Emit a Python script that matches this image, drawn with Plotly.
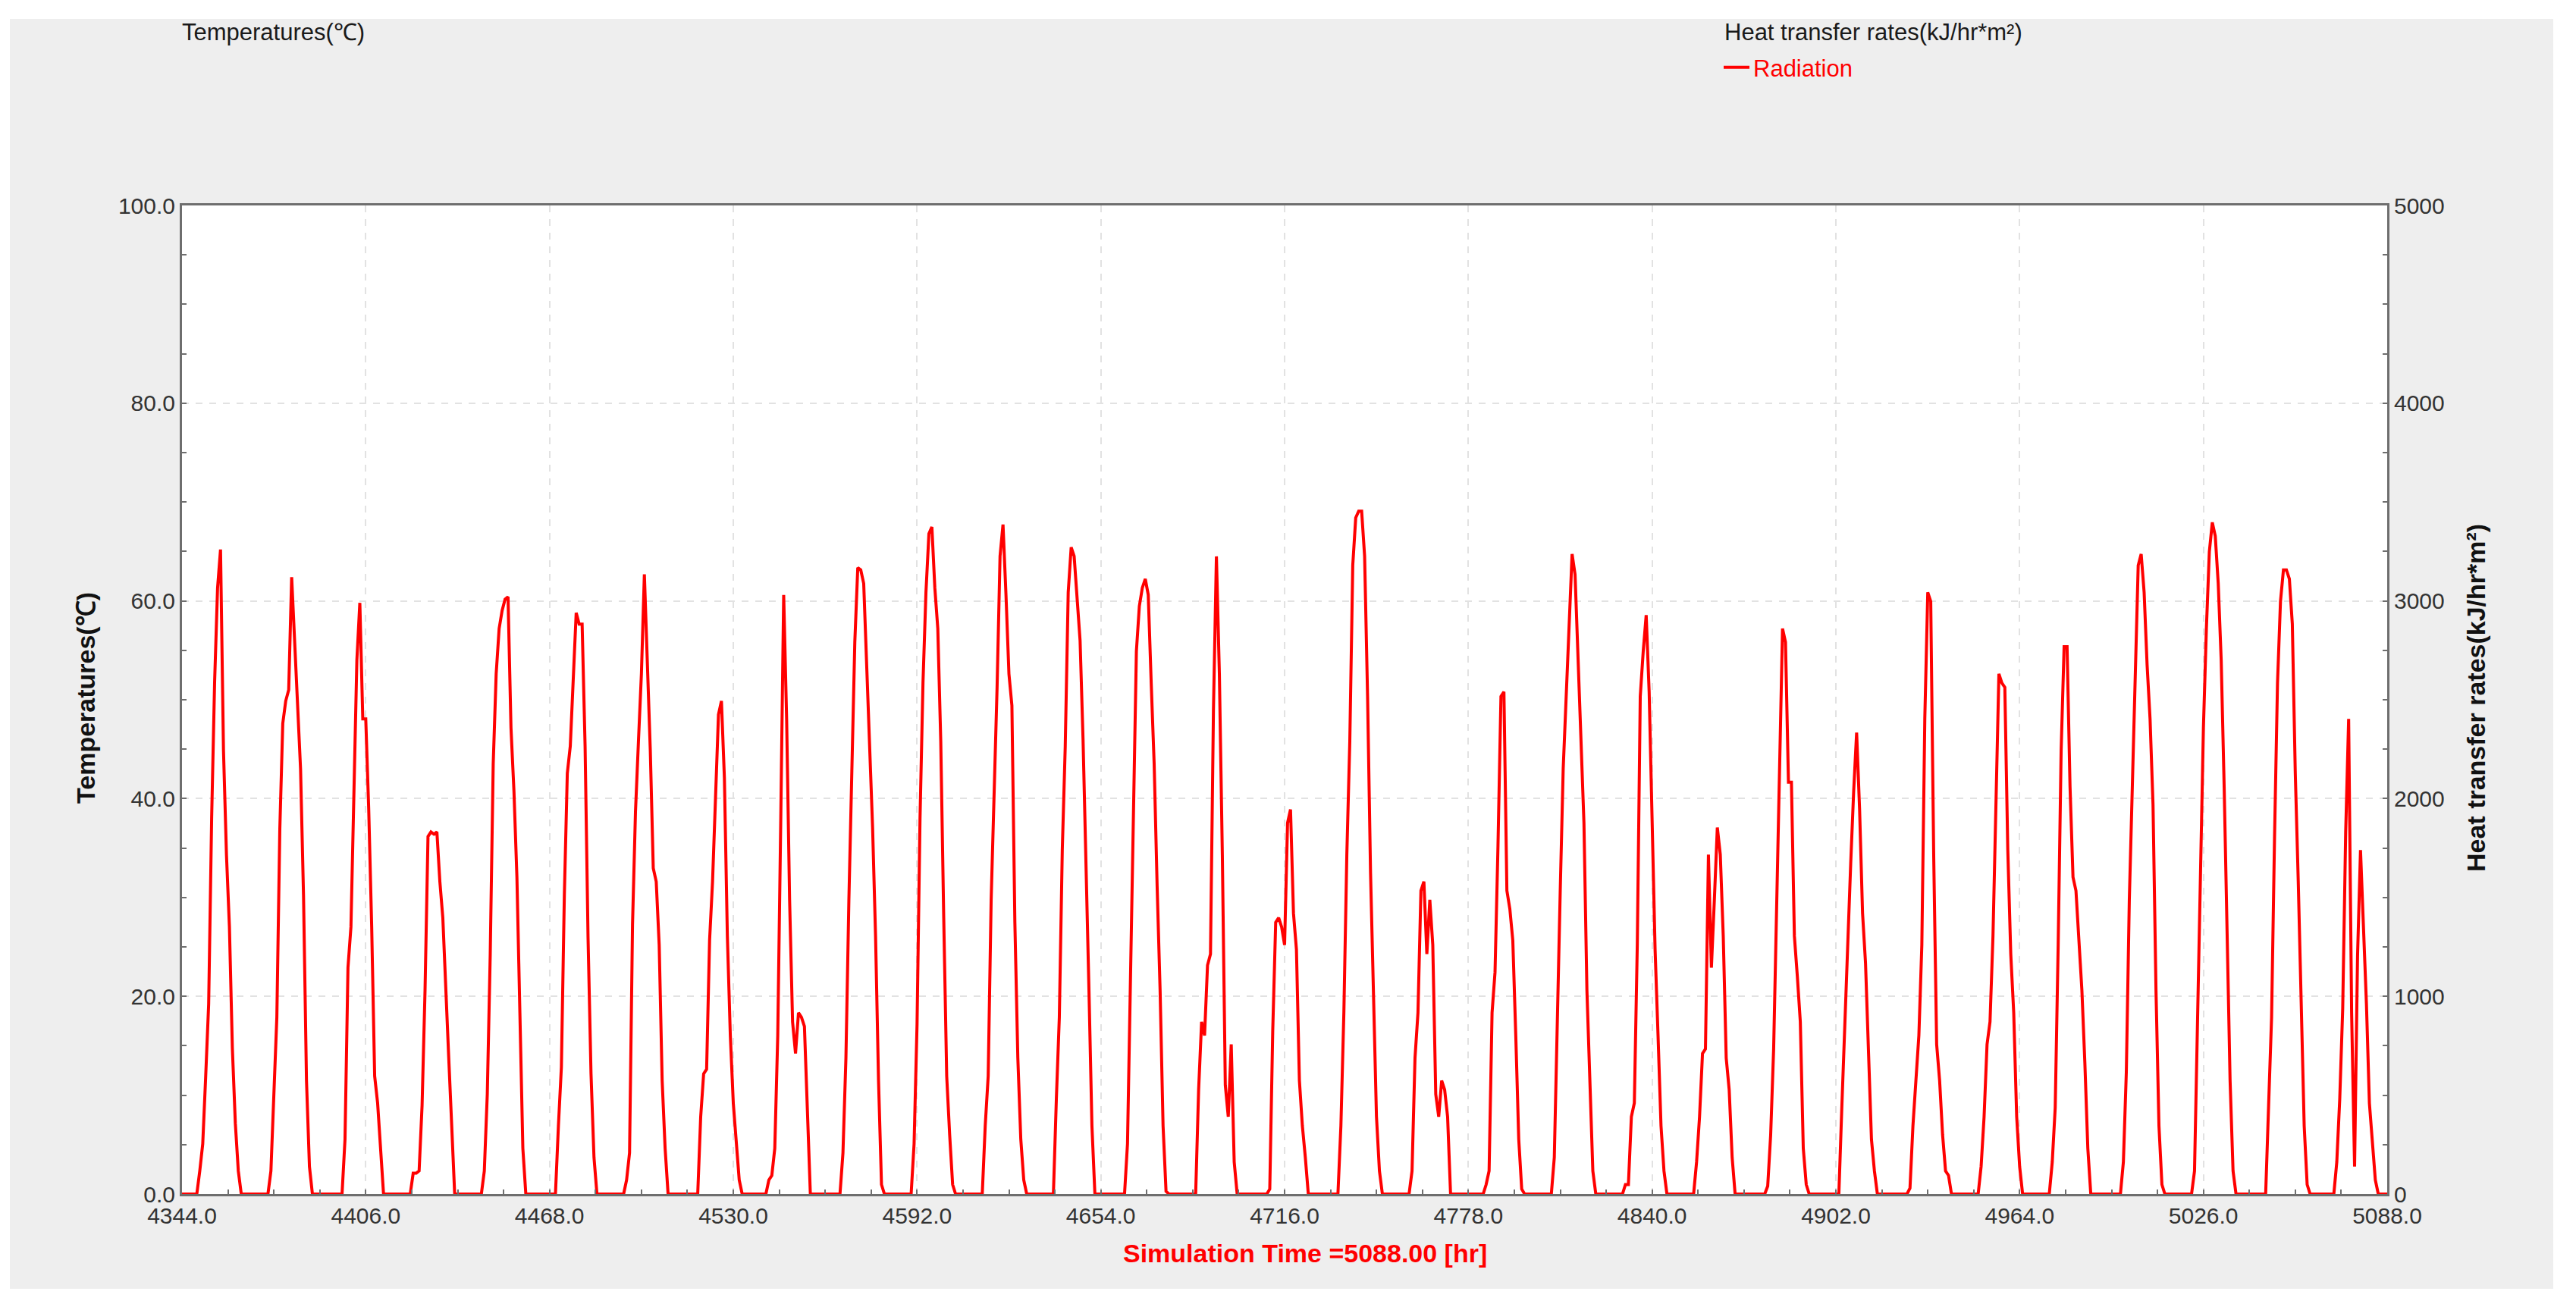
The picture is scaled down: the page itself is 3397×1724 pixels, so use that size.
import plotly.graph_objects as go

# ---------------- data ----------------
T_START = 4344
T_END = 5088
X_DTICK = 62
TEMP_RANGE = [0, 100]
RATE_RANGE = [0, 5000]

# first daylight hour (within each day) for the 31 days shown
sunrise_hour = [6, 6, 7, 6, 6, 7, 6, 7, 6, 7, 7, 7, 7, 7, 7, 7,
                7, 7, 8, 7, 7, 7, 7, 8, 7, 7, 7, 7, 7, 8, 7]

# hourly radiation (kJ/hr*m2) from sunrise onward, one list per day
d01 = [117, 254, 597, 962, 1900, 2585, 3065, 3260, 2243, 1717, 1351, 734, 357, 117]
d02 = [117, 551, 894, 1842, 2380, 2494, 2550, 3120, 2768, 2425, 2151, 1511, 574, 139]
d03 = [277, 1145, 1351, 2105, 2700, 2990, 2403, 2403, 1945, 1351, 597, 460, 208]
d04 = [105, 105, 117, 448, 1031, 1808, 1831, 1820, 1831, 1580, 1397, 1008, 688, 345]
d05 = [117, 505, 1214, 2174, 2631, 2860, 2951, 3008, 3020, 2357, 2037, 1602, 917, 231]
d06 = [345, 642, 1511, 2128, 2265, 2631, 2940, 2882, 2882, 2265, 1294, 608, 185]
d07 = [71, 208, 1362, 1934, 2288, 2631, 3134, 2677, 2243, 1648, 1580, 1260, 574, 231]
d08 = [391, 608, 631, 1282, 1580, 1968, 2425, 2494, 2105, 1305, 802, 460, 277, 71]
d09 = [71, 94, 231, 802, 1877, 3030, 2400, 1488, 871, 711, 917, 894, 848, 437]
d10 = [208, 688, 1488, 2220, 2791, 3168, 3157, 3088, 2700, 2265, 1854, 1305, 574, 48]
d11 = [254, 860, 1900, 2585, 3043, 3340, 3374, 3066, 2860, 2288, 1397, 597, 300, 48]
d12 = [345, 597, 1488, 1991, 2563, 3226, 3386, 3031, 2631, 2471, 1374, 688, 277, 71]
d13 = [482, 894, 1740, 2265, 3043, 3271, 3226, 3020, 2800, 2300, 1717, 1031, 345]
d14 = [254, 1031, 1945, 2745, 2974, 3066, 3111, 3031, 2585, 2174, 1557, 1031, 345, 14]
d15 = [528, 871, 802, 1157, 1214, 2448, 3225, 2631, 1717, 551, 391, 757, 162]
d16 = [25, 825, 1374, 1397, 1351, 1260, 1877, 1945, 1420, 1237, 574, 345, 185]
d17 = [345, 917, 1717, 2288, 3180, 3420, 3454, 3454, 3226, 2517, 1625, 1008, 391, 117]
d18 = [117, 688, 917, 1534, 1580, 1214, 1488, 1260, 505, 391, 574, 528, 391]
d19 = [48, 117, 917, 1122, 1763, 2517, 2540, 1534, 1442, 1282, 802, 277, 25]
d20 = [185, 917, 1534, 2151, 2540, 2860, 3237, 3134, 2723, 2334, 1877, 1031, 574, 117]
d21 = [48, 48, 391, 460, 1260, 2517, 2745, 2928, 2540, 1854, 1237, 802, 345, 117]
d22 = [162, 391, 711, 734, 1717, 1145, 1488, 1854, 1717, 1305, 688, 528, 185]
d23 = [40, 300, 734, 1488, 2083, 2860, 2791, 2083, 2083, 1305, 1100, 871, 231, 48]
d24 = [437, 871, 1260, 1671, 2037, 2334, 1945, 1420, 1168, 665, 277, 117]
d25 = [30, 345, 574, 802, 1260, 2403, 3043, 2997, 1717, 757, 574, 300, 117, 94]
d26 = [140, 391, 757, 871, 1305, 1991, 2631, 2585, 2563, 1740, 1214, 917, 391, 139]
d27 = [162, 437, 1260, 2243, 2768, 2768, 2060, 1603, 1534, 1305, 1031, 665, 231]
d28 = [162, 620, 1488, 2060, 2654, 3180, 3237, 3043, 2677, 2403, 1968, 1031, 345, 48]
d29 = [117, 917, 1648, 2357, 2860, 3248, 3397, 3328, 3088, 2700, 2060, 1305, 574, 117]
d30 = [450, 894, 1808, 2585, 2997, 3157, 3157, 3111, 2883, 2128, 1580, 974, 345, 48]
d31 = [162, 482, 940, 1831, 2403, 917, 139, 1202, 1740, 1351, 962, 460, 277, 71]

daily_radiation = [d01, d02, d03, d04, d05, d06, d07, d08, d09, d10, d11, d12, d13, d14,
                   d15, d16, d17, d18, d19, d20, d21, d22, d23, d24, d25, d26, d27, d28,
                   d29, d30, d31]

# hourly series: zero at night, daily readings during daylight
time_hr = list(range(T_START, T_END + 1))
radiation = [0.0] * len(time_hr)
for day, (start, vals) in enumerate(zip(sunrise_hour, daily_radiation)):
    for i, v in enumerate(vals):
        radiation[day * 24 + start + i] = v

# ---------------- geometry (page pixels) ----------------
FIG_W, FIG_H = 3381, 1708          # page is 3397x1724 with 8px body margin
OFF = 8
PL, PR, PT, PB = 240, 3148, 271, 1575   # plot area on the page
L = PL - OFF
T = PT - OFF
PW = PR - PL
PH = PB - PT
R = FIG_W - L - PW
B = FIG_H - T - PH


def px(xp):
    return (xp - OFF - L) / PW


def py(yp):
    return 1 - (yp - OFF - T) / PH


FONT = "Liberation Sans, Arial, Helvetica, sans-serif"
AXIS_COL = "#6E6E6E"
GRID_COL = "#E2E2E2"
TICK_COL = "#333333"

fig = go.Figure()
# invisible carrier so the left (temperature) axis is drawn with its labels
fig.add_trace(go.Scatter(
    x=[T_START, T_END], y=TEMP_RANGE, mode="none", showlegend=False,
    hoverinfo="skip",
))
fig.add_trace(go.Scatter(
    x=time_hr, y=radiation, yaxis="y2", mode="lines", name="Radiation",
    line=dict(color="#FF0000", width=4),
))

shapes = [
    dict(type="rect", xref="paper", yref="paper", layer="below",
         x0=px(13), x1=px(3367), y0=py(1700), y1=py(25),
         fillcolor="#EEEEEE", line=dict(width=0)),
    dict(type="rect", xref="paper", yref="paper", layer="below",
         x0=0, x1=1, y0=0, y1=1, fillcolor="white", line=dict(width=0)),
]

annotations = [
    dict(text="Temperatures(℃)", xref="paper", yref="paper", x=px(238), y=py(43),
         xanchor="left", yanchor="middle", showarrow=False,
         font=dict(family=FONT, size=31, color="#1A1A1A")),
    dict(text="Heat transfer rates(kJ/hr*m²)", xref="paper", yref="paper",
         x=px(2272), y=py(43), xanchor="left", yanchor="middle", showarrow=False,
         font=dict(family=FONT, size=31, color="#1A1A1A")),
    dict(text="<b>Temperatures(℃)</b>", xref="paper", yref="paper", x=px(113),
         y=py(921), xanchor="center", yanchor="middle", textangle=-90, showarrow=False,
         font=dict(family=FONT, size=34, color="#111111")),
    dict(text="<b>Heat transfer rates(kJ/hr*m²)</b>", xref="paper", yref="paper",
         x=px(3265), y=py(921), xanchor="center", yanchor="middle", textangle=-90,
         showarrow=False, font=dict(family=FONT, size=34, color="#111111")),
    dict(text="<b>Simulation Time =5088.00 [hr]</b>", xref="paper", yref="paper",
         x=px(1721), y=py(1653), xanchor="center", yanchor="middle", showarrow=False,
         font=dict(family=FONT, size=34, color="#FF0000")),
]

fig.update_layout(
    width=FIG_W, height=FIG_H,
    margin=dict(l=L, r=R, t=T, b=B, autoexpand=False),
    paper_bgcolor="white", plot_bgcolor="white",
    font=dict(family=FONT, size=30, color=TICK_COL),
    shapes=shapes, annotations=annotations,
    showlegend=True,
    legend=dict(x=px(2268), y=py(89), xanchor="left", yanchor="middle",
                bgcolor="rgba(0,0,0,0)", itemwidth=34,
                font=dict(family=FONT, size=31, color="#FF0000")),
    xaxis=dict(
        range=[T_START, T_END], tick0=T_START, dtick=X_DTICK, tickformat=".1f",
        ticks="inside", ticklen=6, tickwidth=2, tickcolor=AXIS_COL,
        showline=True, linecolor=AXIS_COL, linewidth=3, mirror=True,
        showgrid=True, gridcolor=GRID_COL, griddash="dash", gridwidth=2,
        zeroline=False, tickfont=dict(size=30, color=TICK_COL),
        minor=dict(tick0=T_START, dtick=X_DTICK / 4, ticks="inside", ticklen=6,
                   tickwidth=2, tickcolor=AXIS_COL, showgrid=False),
    ),
    yaxis=dict(
        range=TEMP_RANGE, tick0=0, dtick=20, tickformat=".1f",
        ticks="inside", ticklen=6, tickwidth=2, tickcolor=AXIS_COL,
        showline=True, linecolor=AXIS_COL, linewidth=3,
        showgrid=True, gridcolor=GRID_COL, griddash="dash", gridwidth=2,
        zeroline=False, tickfont=dict(size=30, color=TICK_COL),
        minor=dict(tick0=0, dtick=5, ticks="inside", ticklen=6, tickwidth=2,
                   tickcolor=AXIS_COL, showgrid=False),
    ),
    yaxis2=dict(
        range=RATE_RANGE, tick0=0, dtick=1000, overlaying="y", side="right",
        ticks="inside", ticklen=6, tickwidth=2, tickcolor=AXIS_COL,
        showline=True, linecolor=AXIS_COL, linewidth=3,
        showgrid=False, zeroline=False, tickfont=dict(size=30, color=TICK_COL),
        minor=dict(tick0=0, dtick=250, ticks="inside", ticklen=6, tickwidth=2,
                   tickcolor=AXIS_COL, showgrid=False),
    ),
)

fig.write_html("out.html")
